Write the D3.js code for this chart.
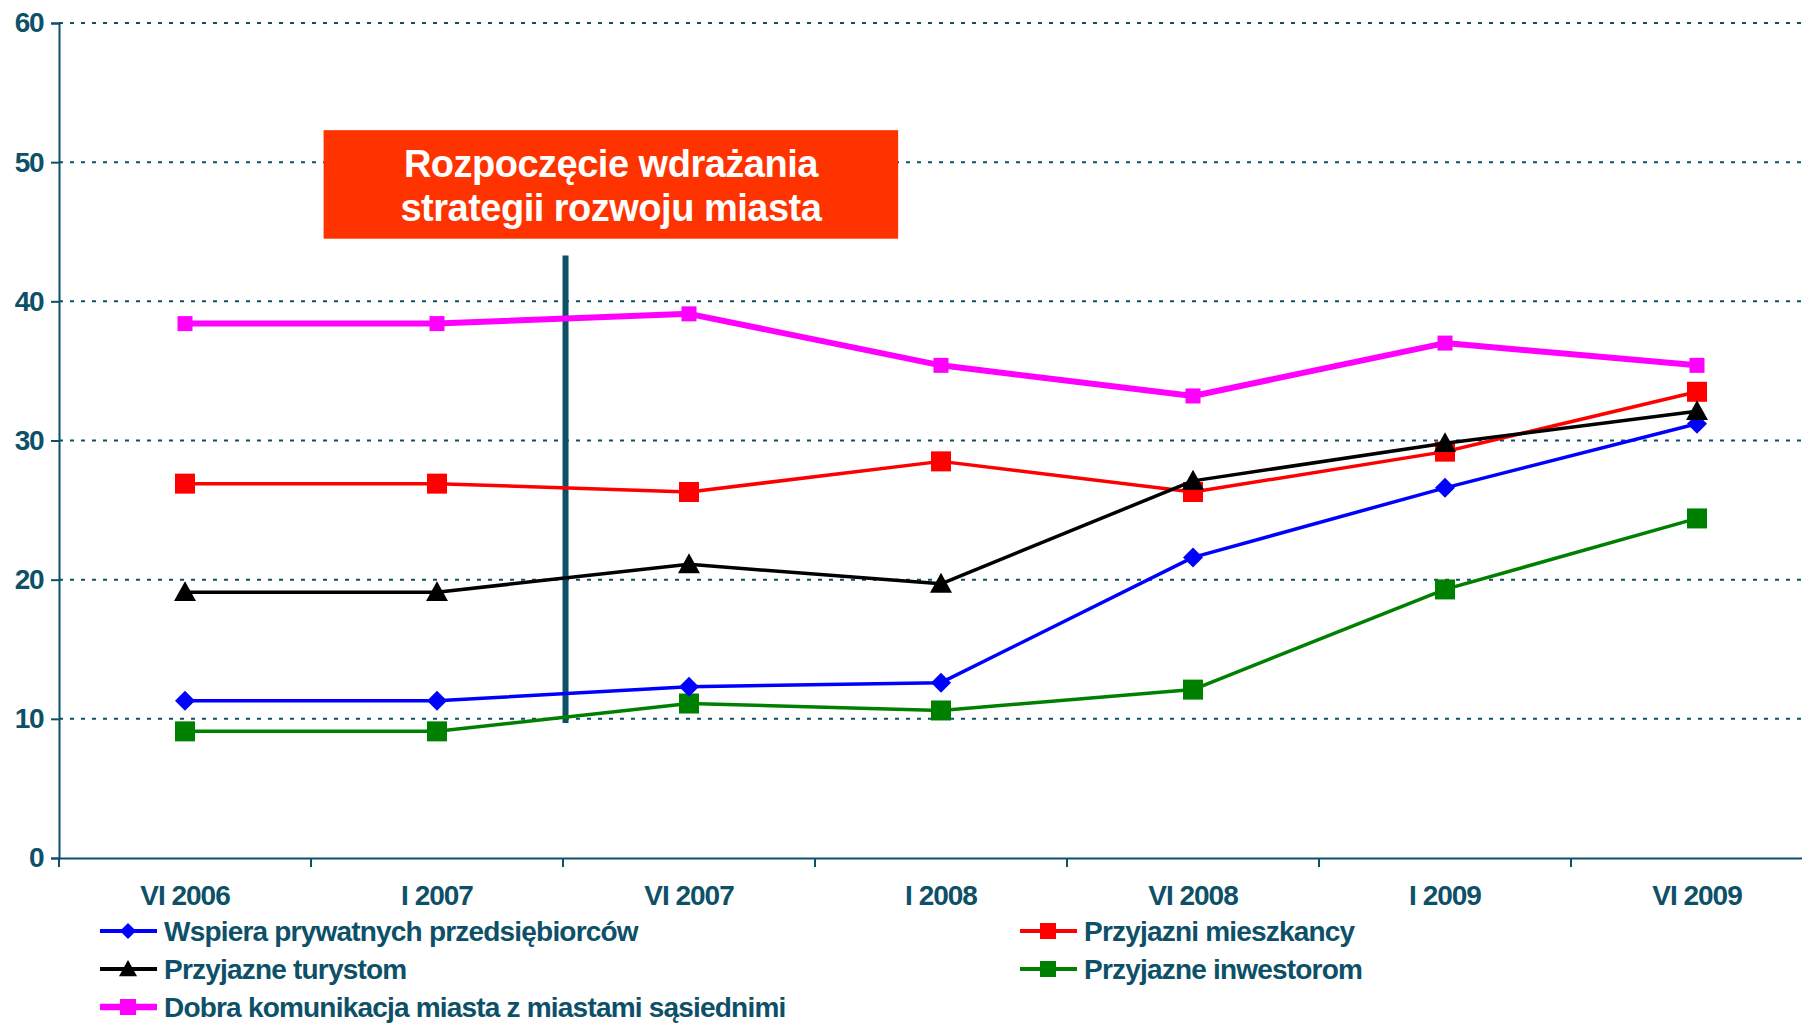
<!DOCTYPE html>
<html>
<head>
<meta charset="utf-8">
<script src="https://cdn.jsdelivr.net/npm/d3@7"></script>
<style>
  body { margin: 0; background: #fff; }
  text { font-family: "Liberation Sans", Arial, sans-serif; }
</style>
</head>
<body>
<div id="chart"></div>
<script>
const periods = ['VI 2006', 'I 2007', 'VI 2007', 'I 2008', 'VI 2008', 'I 2009', 'VI 2009'];
const yTicks = [0, 10, 20, 30, 40, 50, 60];

const wspiera = [11.3, 11.3, 12.3, 12.6, 21.6, 26.6, 31.2];
const mieszkancy = [26.9, 26.9, 26.3, 28.5, 26.3, 29.2, 33.5];
const turystom = [19.1, 19.1, 21.1, 19.7, 27.1, 29.8, 32.1];
const inwestorom = [9.1, 9.1, 11.1, 10.6, 12.1, 19.3, 24.4];
const komunikacja = [38.4, 38.4, 39.1, 35.4, 33.2, 37.0, 35.4];

const seriesNames = [
    'Wspiera prywatnych przedsiębiorców',
    'Przyjazni mieszkancy',
    'Przyjazne turystom',
    'Przyjazne inwestorom',
    'Dobra komunikacja miasta z miastami sąsiednimi'
];

const annotationLines = ['Rozpoczęcie wdrażania', 'strategii rozwoju miasta'];

const series = [
    { name: seriesNames[0], values: wspiera, color: '#0000ff', width: 3.5, marker: 'diamond', size: 20 },
    { name: seriesNames[1], values: mieszkancy, color: '#ff0000', width: 3.5, marker: 'square', size: 20 },
    { name: seriesNames[2], values: turystom, color: '#000000', width: 3.5, marker: 'triangle', size: 22 },
    { name: seriesNames[3], values: inwestorom, color: '#008000', width: 3.5, marker: 'square', size: 20 },
    { name: seriesNames[4], values: komunikacja, color: '#ff00ff', width: 6, marker: 'square', size: 15 }
];

const width = 1802;
const height = 1023;
const axisColor = '#0d5068';
const plotLeft = 59, plotTop = 23, plotBottom = 858;
const bandW = 252;

const svg = d3.select('#chart')
    .append('svg')
    .attr('width', width)
    .attr('height', height);

const xScale = d3.scaleBand()
    .domain(periods)
    .range([plotLeft, plotLeft + bandW * periods.length]);

const xIndex = d3.scaleLinear()
    .domain([0, periods.length])
    .range([plotLeft, plotLeft + bandW * periods.length]);

const yScale = d3.scaleLinear()
    .domain([0, 60])
    .range([plotBottom, plotTop]);

// dotted gridlines
svg.append('g')
    .selectAll('line')
    .data(yTicks.filter(d => d > 0))
    .enter()
    .append('line')
    .attr('x1', plotLeft)
    .attr('x2', width)
    .attr('y1', d => yScale(d))
    .attr('y2', d => yScale(d))
    .attr('stroke', axisColor)
    .attr('stroke-width', 2)
    .attr('stroke-dasharray', '4,7');

// y axis
const yAxis = svg.append('g')
    .attr('transform', `translate(${plotLeft},0)`)
    .call(d3.axisLeft(yScale).tickValues(yTicks).tickSize(8).tickPadding(8));
yAxis.select('.domain').attr('stroke', axisColor).attr('stroke-width', 2);
yAxis.selectAll('.tick line').attr('stroke', axisColor).attr('stroke-width', 2);
yAxis.selectAll('.tick text')
    .attr('fill', axisColor)
    .style('font-size', '28px')
    .style('font-weight', 'bold')
    .style('letter-spacing', '-1.5px');

// x axis
const xAxis = svg.append('g')
    .attr('transform', `translate(0,${plotBottom})`)
    .call(d3.axisBottom(xScale).tickSize(0).tickPadding(27));
xAxis.select('.domain').attr('stroke', axisColor).attr('stroke-width', 2);
xAxis.selectAll('.tick text')
    .attr('fill', axisColor)
    .style('font-size', '28px')
    .style('font-weight', 'bold')
    .style('letter-spacing', '-1px');

xAxis.selectAll('line.boundary')
    .data(d3.range(periods.length + 1))
    .enter()
    .append('line')
    .attr('class', 'boundary')
    .attr('x1', d => xIndex(d))
    .attr('x2', d => xIndex(d))
    .attr('y1', 0)
    .attr('y2', 9)
    .attr('stroke', axisColor)
    .attr('stroke-width', 2);

// annotation: start of strategy
svg.append('line')
    .attr('x1', xIndex(2.01))
    .attr('x2', xIndex(2.01))
    .attr('y1', yScale(43.3))
    .attr('y2', yScale(9.7))
    .attr('stroke', axisColor)
    .attr('stroke-width', 6);

svg.append('rect')
    .attr('x', xIndex(1.05))
    .attr('y', yScale(52.3))
    .attr('width', xIndex(3.33) - xIndex(1.05))
    .attr('height', yScale(44.5) - yScale(52.3))
    .attr('fill', '#ff3300');

svg.append('g')
    .selectAll('text')
    .data(annotationLines)
    .enter()
    .append('text')
    .attr('x', (xIndex(1.05) + xIndex(3.33)) / 2)
    .attr('y', (d, i) => yScale(48.4) - 7 + i * 44)
    .attr('text-anchor', 'middle')
    .attr('fill', '#ffffff')
    .style('font-size', '38px')
    .style('font-weight', 'bold')
    .style('letter-spacing', '-0.5px')
    .text(d => d);

// markers
function drawMarker(sel, type, size, color) {
    const s = size / 2;
    if (type === 'square') {
        sel.append('rect')
            .attr('x', -s).attr('y', -s)
            .attr('width', size).attr('height', size)
            .attr('fill', color);
    } else if (type === 'diamond') {
        sel.append('path')
            .attr('d', `M0,${-s}L${s},0L0,${s}L${-s},0Z`)
            .attr('fill', color);
    } else {
        sel.append('path')
            .attr('d', `M0,${-s}L${s},${s * 0.8}L${-s},${s * 0.8}Z`)
            .attr('fill', color);
    }
}

const line = d3.line()
    .x((d, i) => xScale(periods[i]) + xScale.bandwidth() / 2)
    .y(d => yScale(d));

// draw lines in an order so that pink sits behind
const drawOrder = [4, 3, 1, 0, 2];
drawOrder.forEach(k => {
    const s = series[k];
    const g = svg.append('g');
    g.append('path')
        .datum(s.values)
        .attr('d', line)
        .attr('fill', 'none')
        .attr('stroke', s.color)
        .attr('stroke-width', s.width)
        .attr('stroke-linejoin', 'round');
    g.selectAll('g.pt')
        .data(s.values)
        .enter()
        .append('g')
        .attr('class', 'pt')
        .attr('transform', (d, i) => `translate(${xScale(periods[i]) + xScale.bandwidth() / 2},${yScale(d)})`)
        .each(function() { drawMarker(d3.select(this), s.marker, s.size, s.color); });
});

// legend
const legendPos = [
    { x: 100, y: 931 },
    { x: 1020, y: 931 },
    { x: 100, y: 969 },
    { x: 1020, y: 969 },
    { x: 100, y: 1007 }
];

const legend = svg.append('g');
series.forEach((s, i) => {
    const p = legendPos[i];
    const item = legend.append('g').attr('transform', `translate(${p.x},${p.y})`);
    item.append('line')
        .attr('x1', 0).attr('x2', 57)
        .attr('y1', 0).attr('y2', 0)
        .attr('stroke', s.color)
        .attr('stroke-width', s.width + 0.5);
    const m = item.append('g').attr('transform', 'translate(28,0)');
    drawMarker(m, s.marker, s.marker === 'triangle' ? 18 : 16, s.color);
    item.append('text')
        .attr('x', 64)
        .attr('y', 10)
        .attr('fill', axisColor)
        .style('font-size', '28px')
        .style('font-weight', 'bold')
        .style('letter-spacing', '-0.8px')
        .text(s.name);
});
</script>
</body>
</html>
